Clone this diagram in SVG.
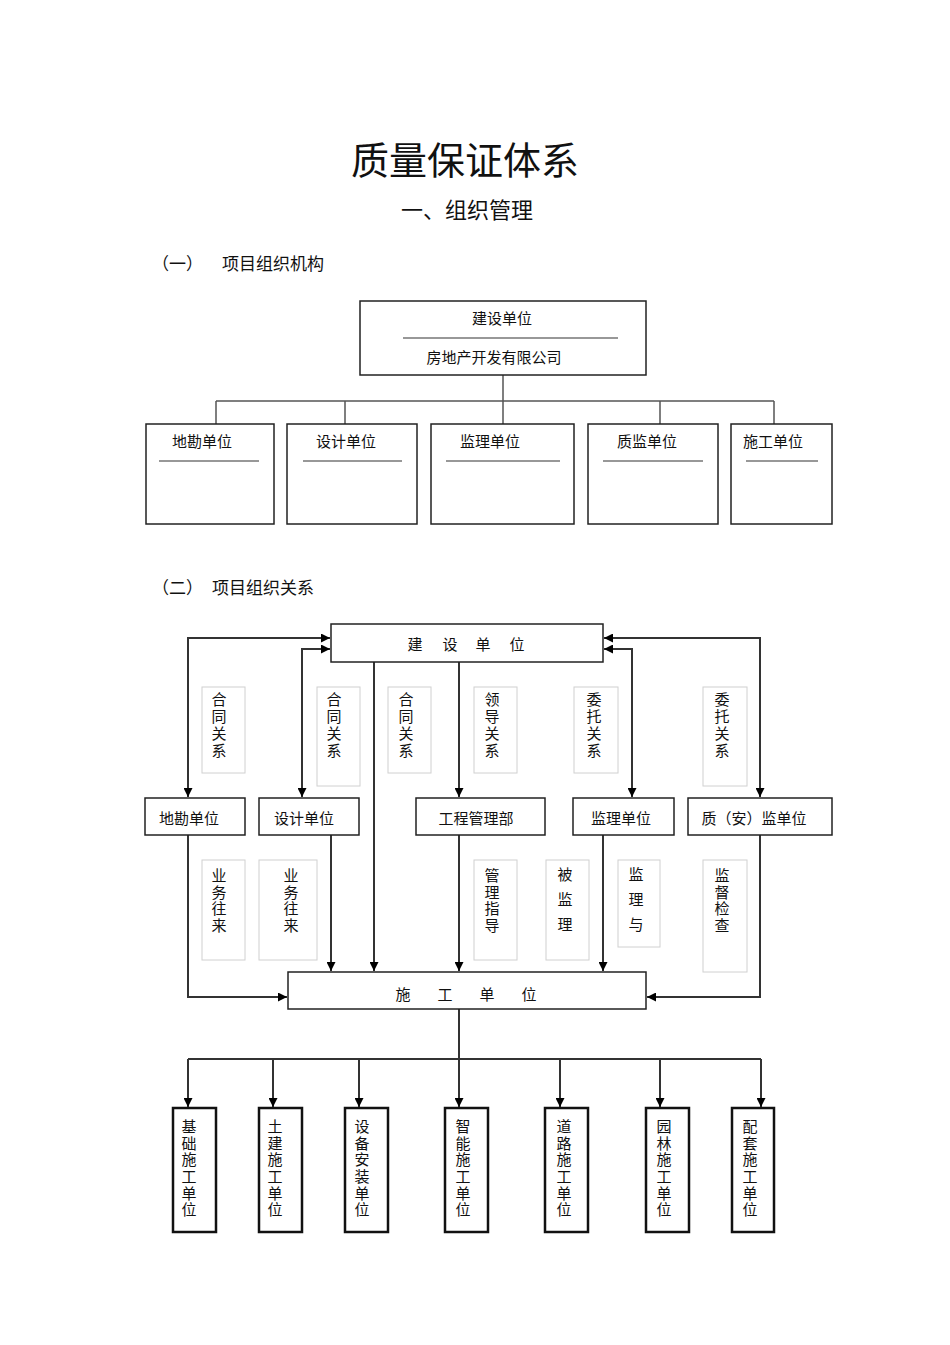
<svg xmlns="http://www.w3.org/2000/svg" width="950" height="1345" viewBox="0 0 950 1345">
<defs>
<marker id="ah" viewBox="0 0 10 10" markerWidth="10" markerHeight="9" markerUnits="userSpaceOnUse" refX="10" refY="5" orient="auto">
<path d="M0,0 L10,5 L0,10 z" fill="#000"/>
</marker>
<style>
text{font-family:"Noto Sans CJK SC","Noto Sans CJK TC",sans-serif;fill:#111;dominant-baseline:central}
.t15{font-size:15px}
.mid{text-anchor:middle}
.v{font-size:15px;writing-mode:vertical-rl;dominant-baseline:auto;text-anchor:start}
.s17{letter-spacing:2px}
.s16{letter-spacing:1.6px}
.s25{letter-spacing:10px}
.box{fill:#fff;stroke:#222;stroke-width:1.5}
.bbox{fill:#fff;stroke:#111;stroke-width:2.5}
.lbl{fill:#fff;stroke:#d0d0d0;stroke-width:1}
.rule{stroke:#333;stroke-width:1.2}
.c1{fill:none;stroke:#555;stroke-width:1.5}
.c2{fill:none;stroke:#333;stroke-width:2}
.arr{marker-end:url(#ah)}
</style>
</defs>
<rect x="0" y="0" width="950" height="1345" fill="#fff"/>

<g id="titles">
<text x="465" y="157" class="mid" style="font-size:38px">质量保证体系</text>
<text x="467" y="208" class="mid" style="font-size:22px">一、组织管理</text>
<text x="152" y="262" style="font-size:17px">（一）</text>
<text x="222" y="262" style="font-size:17px">项目组织机构</text>
<text x="152" y="586" style="font-size:17px">（二）</text>
<text x="212" y="586" style="font-size:17px">项目组织关系</text>
</g>

<!-- Chart 1 -->
<g id="c1-connectors">
<path class="c1" d="M503,375 V424 M216,401 H774 M216,401 V424 M345,401 V424 M660,401 V424 M774,401 V424"/>
</g>
<g id="c1-top">
<rect class="box" x="360" y="301" width="286" height="74"/>
<text x="502" y="317" class="t15 mid">建设单位</text>
<line class="rule" x1="403" y1="338" x2="618" y2="338"/>
<text x="494" y="356" class="t15 mid">房地产开发有限公司</text>
</g>
<g id="c1-dikan">
<rect class="box" x="146" y="424" width="128" height="100"/>
<text x="202" y="440" class="t15 mid">地勘单位</text>
<line class="rule" x1="159" y1="461" x2="259" y2="461"/>
</g>
<g id="c1-sheji">
<rect class="box" x="287" y="424" width="130" height="100"/>
<text x="346" y="440" class="t15 mid">设计单位</text>
<line class="rule" x1="303" y1="461" x2="402" y2="461"/>
</g>
<g id="c1-jianli">
<rect class="box" x="431" y="424" width="143" height="100"/>
<text x="490" y="440" class="t15 mid">监理单位</text>
<line class="rule" x1="446" y1="461" x2="560" y2="461"/>
</g>
<g id="c1-zhijian">
<rect class="box" x="588" y="424" width="130" height="100"/>
<text x="647" y="440" class="t15 mid">质监单位</text>
<line class="rule" x1="603" y1="461" x2="703" y2="461"/>
</g>
<g id="c1-shigong">
<rect class="box" x="731" y="424" width="101" height="100"/>
<text x="773" y="440" class="t15 mid">施工单位</text>
<line class="rule" x1="746" y1="461" x2="818" y2="461"/>
</g>

<!-- Chart 2 -->
<g id="c2-labels">
<rect class="lbl" x="202" y="687" width="43" height="86"/>
<text class="v s17" x="219" y="692">合同关系</text>
<rect class="lbl" x="317" y="687" width="43" height="99"/>
<text class="v s17" x="334" y="692">合同关系</text>
<rect class="lbl" x="388" y="687" width="43" height="86"/>
<text class="v s17" x="406" y="692">合同关系</text>
<rect class="lbl" x="474" y="687" width="43" height="86"/>
<text class="v s17" x="492" y="692">领导关系</text>
<rect class="lbl" x="574" y="687" width="44" height="86"/>
<text class="v s17" x="594" y="692">委托关系</text>
<rect class="lbl" x="703" y="687" width="44" height="99"/>
<text class="v s17" x="722" y="692">委托关系</text>

<rect class="lbl" x="202" y="860" width="43" height="100"/>
<text class="v s16" x="219" y="868">业务往来</text>
<rect class="lbl" x="259" y="860" width="58" height="100"/>
<text class="v s16" x="291" y="868">业务往来</text>
<rect class="lbl" x="474" y="860" width="43" height="100"/>
<text class="v s16" x="492" y="868">管理指导</text>
<rect class="lbl" x="546" y="860" width="43" height="100"/>
<text class="v s25" x="565" y="867">被监理</text>
<rect class="lbl" x="618" y="860" width="42" height="87"/>
<text class="v s25" x="636" y="867">监理与</text>
<rect class="lbl" x="703" y="860" width="44" height="112"/>
<text class="v s16" x="722" y="868">监督检查</text>
</g>

<g id="c2-connectors">
<path class="c2 arr" d="M188,797 V638 H330"/>
<path class="c2 arr" d="M188,638 V797"/>
<path class="c2 arr" d="M302,797 V649 H330"/>
<path class="c2 arr" d="M302,649 V797"/>
<path class="c2 arr" d="M760,797 V638 H604"/>
<path class="c2 arr" d="M760,638 V797"/>
<path class="c2 arr" d="M632,797 V649 H604"/>
<path class="c2 arr" d="M632,649 V797"/>
<path class="c2 arr" d="M374,662 V971"/>
<path class="c2 arr" d="M459,662 V797"/>
<path class="c2 arr" d="M188,835 V997 H287"/>
<path class="c2 arr" d="M331,835 V971"/>
<path class="c2 arr" d="M459,835 V971"/>
<path class="c2 arr" d="M603,835 V971"/>
<path class="c2 arr" d="M760,835 V997 H647"/>
<path class="c2" d="M459,1009 V1059 M188,1059 H761"/>
<path class="c2 arr" d="M188,1059 V1107"/>
<path class="c2 arr" d="M273,1059 V1107"/>
<path class="c2 arr" d="M359,1059 V1107"/>
<path class="c2 arr" d="M459,1059 V1107"/>
<path class="c2 arr" d="M560,1059 V1107"/>
<path class="c2 arr" d="M660,1059 V1107"/>
<path class="c2 arr" d="M761,1059 V1107"/>
</g>

<g id="c2-jianshe">
<rect class="box" x="331" y="624" width="272" height="38"/>
<text class="t15 mid" y="643"><tspan x="415">建</tspan><tspan x="450">设</tspan><tspan x="483">单</tspan><tspan x="517">位</tspan></text>
</g>
<g id="c2-dikan">
<rect class="box" x="145" y="798" width="100" height="37"/>
<text x="189" y="817" class="t15 mid">地勘单位</text>
</g>
<g id="c2-sheji">
<rect class="box" x="259" y="798" width="100" height="37"/>
<text x="304" y="817" class="t15 mid">设计单位</text>
</g>
<g id="c2-gongcheng">
<rect class="box" x="416" y="798" width="129" height="37"/>
<text x="476" y="817" class="t15 mid">工程管理部</text>
</g>
<g id="c2-jianli">
<rect class="box" x="573" y="798" width="101" height="37"/>
<text x="621" y="817" class="t15 mid">监理单位</text>
</g>
<g id="c2-zhian">
<rect class="box" x="688" y="798" width="144" height="37"/>
<text x="754" y="817" class="t15 mid">质（安）监单位</text>
</g>
<g id="c2-shigong">
<rect class="box" x="288" y="972" width="358" height="37"/>
<text class="t15 mid" y="993"><tspan x="403">施</tspan><tspan x="445">工</tspan><tspan x="487">单</tspan><tspan x="529">位</tspan></text>
</g>

<g id="b-jichu">
<rect class="bbox" x="173" y="1108" width="43" height="124"/>
<text class="v s16" x="189" y="1119">基础施工单位</text>
</g>
<g id="b-tujian">
<rect class="bbox" x="259" y="1108" width="43" height="124"/>
<text class="v s16" x="275" y="1119">土建施工单位</text>
</g>
<g id="b-shebei">
<rect class="bbox" x="345" y="1108" width="43" height="124"/>
<text class="v s16" x="362" y="1119">设备安装单位</text>
</g>
<g id="b-zhineng">
<rect class="bbox" x="445" y="1108" width="43" height="124"/>
<text class="v s16" x="463" y="1119">智能施工单位</text>
</g>
<g id="b-daolu">
<rect class="bbox" x="545" y="1108" width="43" height="124"/>
<text class="v s16" x="564" y="1119">道路施工单位</text>
</g>
<g id="b-yuanlin">
<rect class="bbox" x="646" y="1108" width="43" height="124"/>
<text class="v s16" x="664" y="1119">园林施工单位</text>
</g>
<g id="b-peitao">
<rect class="bbox" x="732" y="1108" width="42" height="124"/>
<text class="v s16" x="750" y="1119">配套施工单位</text>
</g>
</svg>
